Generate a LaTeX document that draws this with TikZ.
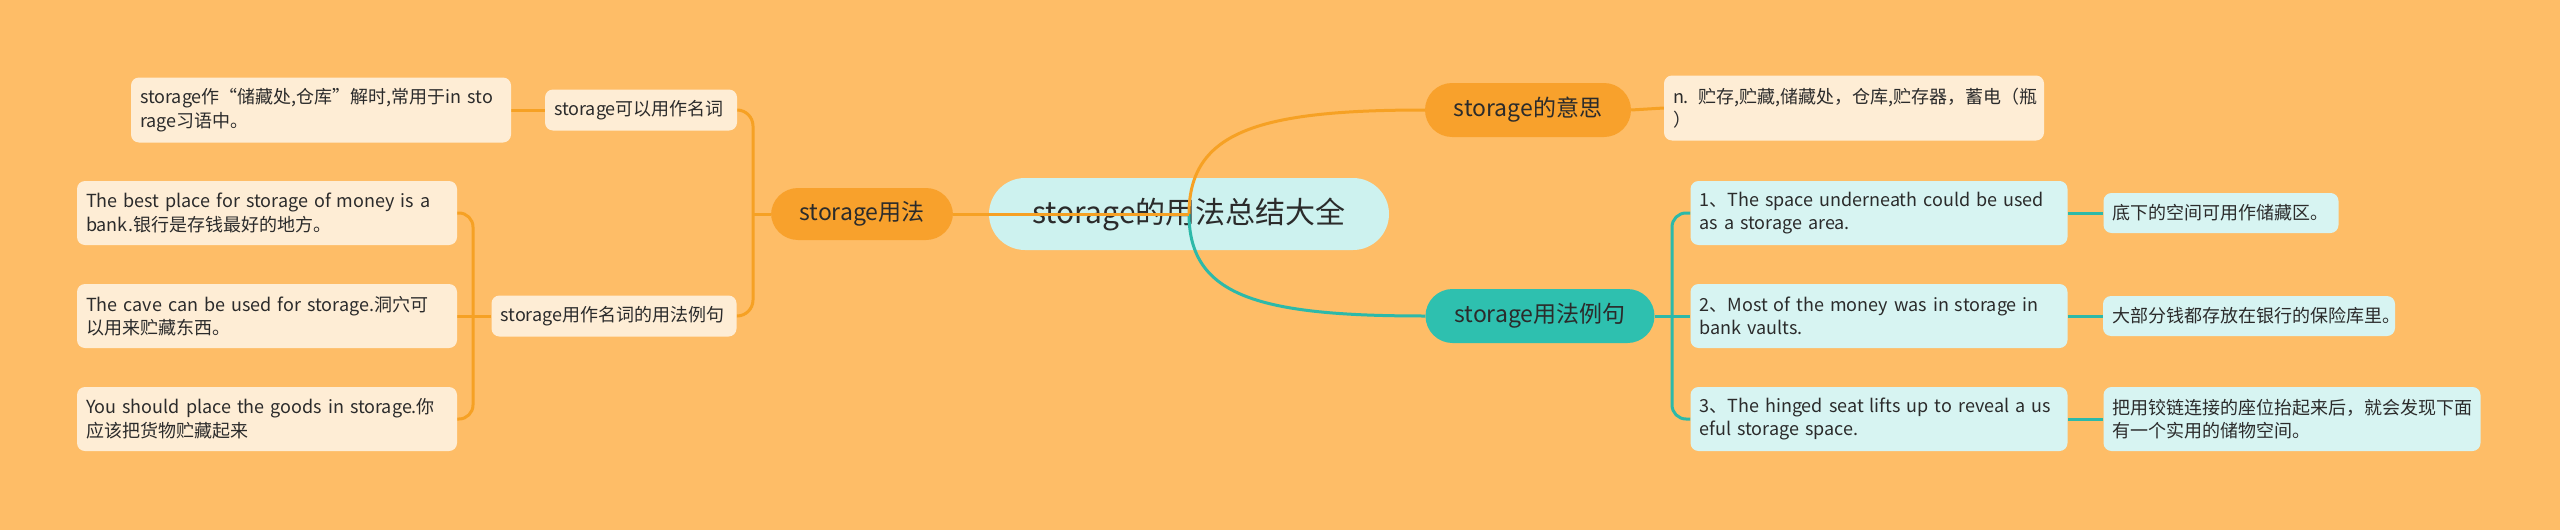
\documentclass[tikz,border=0pt]{standalone}
\usepackage{fontspec}
\setmainfont{Noto Sans CJK SC}
\definecolor{bgc}{HTML}{FEBD67}
\definecolor{orangec}{HTML}{F8A12C}
\definecolor{tealc}{HTML}{2EC0AF}
\definecolor{rootc}{HTML}{CDF2EF}
\definecolor{creamc}{HTML}{FEEDD5}
\definecolor{cyanc}{HTML}{D7F4F2}
\definecolor{olinec}{HTML}{F6A124}
\definecolor{tlinec}{HTML}{2DB9A9}
\definecolor{txtc}{HTML}{2B2B2B}
\pgfdeclarelayer{bottom}
\pgfdeclarelayer{top}
\pgfsetlayers{bottom,main,top}
\begin{document}
\begin{tikzpicture}[x=1pt,y=-1pt,
  rootbox/.style={fill=rootc, rounded corners=36pt, minimum width=400pt, minimum height=72pt, inner sep=0pt, text=txtc, font=\fontsize{30}{36}\selectfont},
  obox/.style={fill=orangec, rounded corners=27pt, minimum height=54pt, inner sep=0pt, text=txtc, font=\fontsize{23}{28}\selectfont},
  tbox/.style={fill=tealc, rounded corners=27pt, minimum height=54pt, inner sep=0pt, text=txtc, font=\fontsize{23}{28}\selectfont},
  leaf/.style={rounded corners=8pt, inner xsep=9pt, inner ysep=0pt, align=left, text=txtc, font=\fontsize{18}{23.5}\selectfont},
  cleaf/.style={leaf, fill=creamc},
  bleaf/.style={leaf, fill=cyanc},
  oline/.style={draw=olinec, line width=3pt},
  tline/.style={draw=tlinec, line width=3pt},
]
\useasboundingbox (0,0) rectangle (2560,530);
\begin{pgfonlayer}{bottom}
\fill[bgc] (0,0) rectangle (2560,530);
\node[rootbox] (root) at (1189,214) {storage的用法总结大全};
\end{pgfonlayer}

\begin{pgfonlayer}{top}
% right side
\node[obox, minimum width=206pt] (m1) at (1528,110) {storage的意思};
\node[cleaf, text width=362pt, minimum height=65pt] (m1d) at (1854,108) {n. 贮存,贮藏,储藏处，仓库,贮存器，蓄电（瓶\\）};
\node[tbox, minimum width=229pt] (m2) at (1540,316) {storage用法例句};
\node[bleaf, text width=359pt, minimum height=64pt] (e1) at (1879,213) {1、The space underneath could be used\\as a storage area.};
\node[bleaf, text width=359pt, minimum height=64pt] (e2) at (1879,316) {2、Most of the money was in storage in\\bank vaults.};
\node[bleaf, text width=359pt, minimum height=64pt] (e3) at (1879,419) {3、The hinged seat lifts up to reveal a us\\eful storage space.};
\node[bleaf, text width=217pt, minimum height=40pt] (t1) at (2221,213) {底下的空间可用作储藏区。};
\node[bleaf, text width=274pt, minimum height=40pt] (t2) at (2249,316) {大部分钱都存放在银行的保险库里。};
\node[bleaf, text width=359pt, minimum height=64pt] (t3) at (2292,419) {把用铰链连接的座位抬起来后，就会发现下面\\有一个实用的储物空间。};
% left side
\node[obox, minimum width=182pt, minimum height=52pt] (L) at (862,214) {storage用法};
\node[cleaf, text width=174pt, minimum height=41pt] (L1) at (641,110) {storage可以用作名词};
\node[cleaf, text width=362pt, minimum height=65pt] (L1d) at (321,110) {storage作“储藏处,仓库”解时,常用于in sto\\rage习语中。};
\node[cleaf, text width=227pt, minimum height=41pt] (L2) at (614,316) {storage用作名词的用法例句};
\node[cleaf, text width=362pt, minimum height=64pt] (x1) at (267,213) {The best place for storage of money is a\\bank.银行是存钱最好的地方。};
\node[cleaf, text width=362pt, minimum height=64pt] (x2) at (267,316) {The cave can be used for storage.洞穴可\\以用来贮藏东西。};
\node[cleaf, text width=362pt, minimum height=64pt] (x3) at (267,419) {You should place the goods in storage.你\\应该把货物贮藏起来};
\end{pgfonlayer}

\coordinate (sL) at (753,214);
\coordinate (sL2) at (473,316);
\coordinate (sR) at (1672,316);

% connectors from root
\draw[oline] (root.center) .. controls +(0,-83) and +(-165,0) .. (m1.west);
\draw[tline] (root.center) .. controls +(0,83) and +(-165,0) .. (m2.west);
\draw[oline] (root.center) -- (L.east);
% right branches
\draw[oline] (m1.east) -- (m1d.west);
\draw[tline] (m2.east) -- (sR);
\draw[tline, rounded corners=14pt] (e1.west) -| (sR) |- (e3.west);
\draw[tline] (sR) -- (e2.west);
\draw[tline] (e1.east) -- (t1.west);
\draw[tline] (e2.east) -- (t2.west);
\draw[tline] (e3.east) -- (t3.west);
% left branches
\draw[oline] (L.west) -- (sL);
\draw[oline, rounded corners=16pt] (L1.east) -| (sL) |- (L2.east);
\draw[oline] (L1.west) -- (L1d.east);
\draw[oline] (L2.west) -- (sL2);
\draw[oline, rounded corners=14pt] (x1.east) -| (sL2) |- (x3.east);
\draw[oline] (sL2) -- (x2.east);
\end{tikzpicture}
\end{document}
